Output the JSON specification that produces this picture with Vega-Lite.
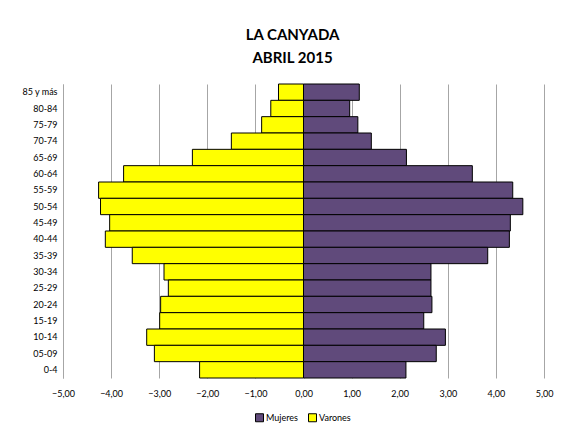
{
  "$schema": "https://vega.github.io/schema/vega-lite/v6.json",
  "autosize": "none",
  "width": 481,
  "height": 294,
  "padding": {"left": 63, "top": 84, "right": 17, "bottom": 51},
  "background": "white",
  "title": {
    "text": ["LA CANYADA", "ABRIL 2015"],
    "font": "Lato",
    "fontSize": 15,
    "fontWeight": "bold",
    "color": "#000000",
    "lineHeight": 23,
    "anchor": "middle",
    "offset": 18,
    "dx": -11
  },
  "config": {
    "locale": {"number": {"decimal": ",", "thousands": ".", "grouping": [3], "currency": ["", " €"]}},
    "view": {"stroke": null},
    "font": "Lato"
  },
  "data": {
    "values": [
      {"edad": "85 y más", "sexo": "Varones", "valor": -0.52},
      {"edad": "80-84", "sexo": "Varones", "valor": -0.68},
      {"edad": "75-79", "sexo": "Varones", "valor": -0.87},
      {"edad": "70-74", "sexo": "Varones", "valor": -1.50},
      {"edad": "65-69", "sexo": "Varones", "valor": -2.31},
      {"edad": "60-64", "sexo": "Varones", "valor": -3.74},
      {"edad": "55-59", "sexo": "Varones", "valor": -4.26},
      {"edad": "50-54", "sexo": "Varones", "valor": -4.22},
      {"edad": "45-49", "sexo": "Varones", "valor": -4.03},
      {"edad": "40-44", "sexo": "Varones", "valor": -4.12},
      {"edad": "35-39", "sexo": "Varones", "valor": -3.56},
      {"edad": "30-34", "sexo": "Varones", "valor": -2.90},
      {"edad": "25-29", "sexo": "Varones", "valor": -2.81},
      {"edad": "20-24", "sexo": "Varones", "valor": -2.97},
      {"edad": "15-19", "sexo": "Varones", "valor": -2.99},
      {"edad": "10-14", "sexo": "Varones", "valor": -3.26},
      {"edad": "05-09", "sexo": "Varones", "valor": -3.10},
      {"edad": "0-4", "sexo": "Varones", "valor": -2.16},
      {"edad": "85 y más", "sexo": "Mujeres", "valor": 1.16},
      {"edad": "80-84", "sexo": "Mujeres", "valor": 0.96},
      {"edad": "75-79", "sexo": "Mujeres", "valor": 1.13},
      {"edad": "70-74", "sexo": "Mujeres", "valor": 1.41},
      {"edad": "65-69", "sexo": "Mujeres", "valor": 2.14},
      {"edad": "60-64", "sexo": "Mujeres", "valor": 3.51},
      {"edad": "55-59", "sexo": "Mujeres", "valor": 4.35},
      {"edad": "50-54", "sexo": "Mujeres", "valor": 4.56},
      {"edad": "45-49", "sexo": "Mujeres", "valor": 4.30},
      {"edad": "40-44", "sexo": "Mujeres", "valor": 4.28},
      {"edad": "35-39", "sexo": "Mujeres", "valor": 3.83},
      {"edad": "30-34", "sexo": "Mujeres", "valor": 2.65},
      {"edad": "25-29", "sexo": "Mujeres", "valor": 2.65},
      {"edad": "20-24", "sexo": "Mujeres", "valor": 2.67},
      {"edad": "15-19", "sexo": "Mujeres", "valor": 2.50},
      {"edad": "10-14", "sexo": "Mujeres", "valor": 2.95},
      {"edad": "05-09", "sexo": "Mujeres", "valor": 2.76},
      {"edad": "0-4", "sexo": "Mujeres", "valor": 2.13}
    ]
  },
  "mark": {"type": "bar", "stroke": "#000000", "strokeWidth": 1},
  "encoding": {
    "y": {
      "field": "edad",
      "type": "nominal",
      "sort": ["85 y más", "80-84", "75-79", "70-74", "65-69", "60-64", "55-59", "50-54", "45-49", "40-44", "35-39", "30-34", "25-29", "20-24", "15-19", "10-14", "05-09", "0-4"],
      "scale": {"paddingInner": 0, "paddingOuter": 0},
      "axis": {
        "title": null,
        "ticks": false,
        "domain": true,
        "domainColor": "#a6a6a6",
        "labelFontSize": 9,
        "labelColor": "#000000",
        "labelPadding": 6,
        "grid": false
      }
    },
    "x": {
      "field": "valor",
      "type": "quantitative",
      "stack": null,
      "scale": {"domain": [-5, 5], "nice": false, "zero": false},
      "axis": {
        "title": null,
        "values": [-5, -4, -3, -2, -1, 0, 1, 2, 3, 4, 5],
        "format": ".2f",
        "ticks": false,
        "domain": false,
        "grid": true,
        "gridColor": "#a6a6a6",
        "gridWidth": 1,
        "labelFlush": false,
        "labelFontSize": 9,
        "labelColor": "#000000",
        "labelPadding": 11
      }
    },
    "color": {
      "field": "sexo",
      "type": "nominal",
      "scale": {"domain": ["Mujeres", "Varones"], "range": ["#604A7B", "#FFFF00"]},
      "legend": {
        "title": null,
        "orient": "none",
        "direction": "horizontal",
        "legendX": 192,
        "legendY": 329,
        "symbolType": "square",
        "symbolSize": 64,
        "symbolStrokeColor": "#000000",
        "symbolStrokeWidth": 1,
        "labelFontSize": 9,
        "labelColor": "#000000",
        "labelOffset": 2,
        "columnPadding": 8
      }
    }
  }
}
